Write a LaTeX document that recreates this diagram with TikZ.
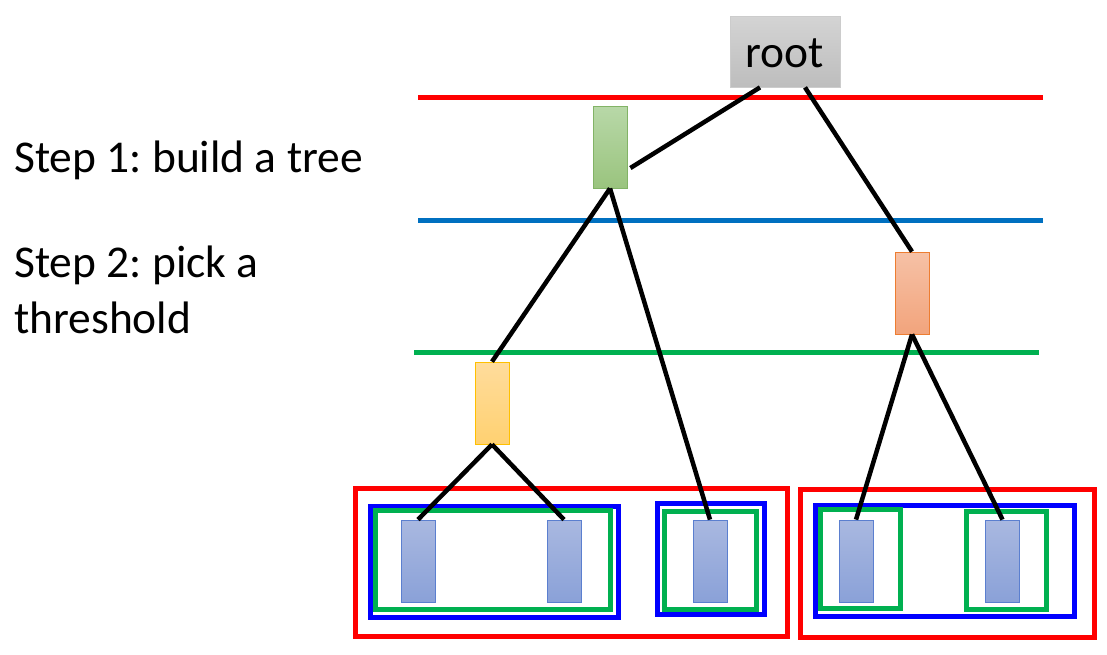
\documentclass[tikz,border=0pt]{standalone}
\usepackage{fontspec}
\setmainfont{Carlito}
\frenchspacing
\begin{document}
\begin{tikzpicture}[x=1pt,y=-1pt,
  lbl/.style={font=\fontsize{45.5}{56}\selectfont, inner sep=0pt, anchor=base west},
  bar/.style={draw, line width=0.8pt, minimum width=34pt, minimum height=82pt, inner sep=0pt},
  leaf/.style={bar, draw=leafB, top color=leafT, bottom color=leafBo},
  edge/.style={line width=4.5pt, black},
  hline/.style={line width=5pt},
  grp/.style={line width=5pt}
]
\definecolor{leafT}{HTML}{A9B8E0}
\definecolor{leafBo}{HTML}{8AA1D8}
\definecolor{leafB}{HTML}{5B7FCF}
\definecolor{gT}{HTML}{B8D8A8}
\definecolor{gBo}{HTML}{9AC47E}
\definecolor{gB}{HTML}{82B366}
\definecolor{oT}{HTML}{F6C1A6}
\definecolor{oBo}{HTML}{F2A47C}
\definecolor{oB}{HTML}{ED7D31}
\definecolor{yT}{HTML}{FFDC9C}
\definecolor{yBo}{HTML}{FFD171}
\definecolor{yB}{HTML}{FFC000}
\definecolor{rT}{HTML}{D4D4D4}
\definecolor{rBo}{HTML}{BDBDBD}
\definecolor{rB}{HTML}{CCCCCC}
\definecolor{lineblue}{HTML}{0070C0}
\definecolor{linegreen}{HTML}{00B050}
\definecolor{boxred}{HTML}{FF0000}
\definecolor{boxblue}{HTML}{0000FF}

\path[use as bounding box] (0,0) rectangle (1107,654);

% labels
\node[lbl] (s1) at (14,172) {Step 1: build a tree};
\node[lbl] (s2a) at (14,277) {Step 2: pick a};
\node[lbl] (s2b) at (14,333) {threshold};

% horizontal threshold lines
\draw[hline, boxred] (418,97) -- (1043,97);
\draw[hline, lineblue] (418,220) -- (1043,220);
\draw[hline, linegreen] (414,352) -- (1039,352);

% group rectangles
\draw[grp, boxred] (355,488) rectangle (787,636);
\draw[grp, boxred] (800,489) rectangle (1094,637);
\draw[grp, boxblue] (370.5,506.5) rectangle (618.5,617.5);
\draw[grp, boxblue] (657.5,503.5) rectangle (764.5,614.5);
\draw[grp, boxblue] (815.5,505.5) rectangle (1074.5,616.5);
\draw[grp, linegreen] (375.5,510.5) rectangle (610.5,609.5);
\draw[grp, linegreen] (664.5,511.5) rectangle (756.5,609.5);
\draw[grp, linegreen] (820.5,509.5) rectangle (900.5,608.5);
\draw[grp, linegreen] (966.5,511.5) rectangle (1046.5,609.5);

% nodes
\node[draw=rB, line width=0.8pt, top color=rT, bottom color=rBo, minimum width=110pt, minimum height=71pt, inner sep=0pt,
  text height=31pt, text depth=0pt,
  font=\fontsize{45.5}{56}\selectfont] (root) at (785,51.5) {root};
\node[bar, draw=gB, top color=gT, bottom color=gBo] (g) at (610,147) {};
\node[bar, draw=oB, top color=oT, bottom color=oBo] (o) at (912,293) {};
\node[bar, draw=yB, top color=yT, bottom color=yBo] (y) at (492,403) {};
\node[leaf] (l1) at (418,561) {};
\node[leaf] (l2) at (564,561) {};
\node[leaf] (l3) at (710,561) {};
\node[leaf] (l4) at (856,561) {};
\node[leaf] (l5) at (1002.5,561) {};

% edges
\draw[edge] ([xshift=-25pt]root.south) -- ([xshift=3pt,yshift=-21pt]g.east);
\draw[edge] ([xshift=20pt]root.south) -- (o.north);
\draw[edge] (g.south) -- (y.north);
\draw[edge] (g.south) -- (l3.north);
\draw[edge] (y.south) -- (l1.north);
\draw[edge] (y.south) -- (l2.north);
\draw[edge] (o.south) -- (l4.north);
\draw[edge] (o.south) -- (l5.north);
\end{tikzpicture}
\end{document}
